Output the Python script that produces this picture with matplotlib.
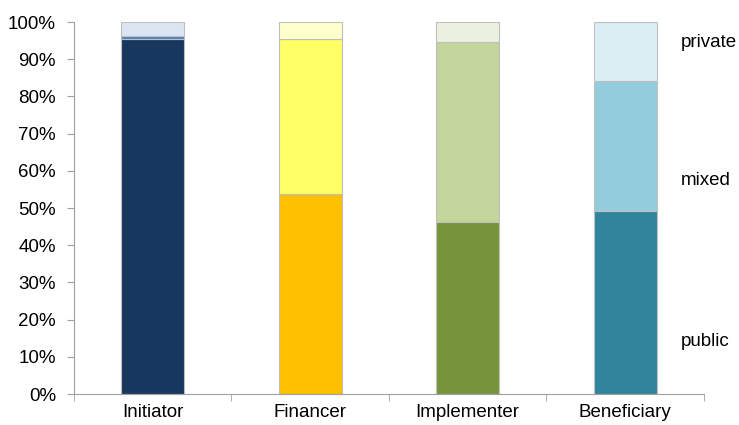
import matplotlib.pyplot as plt
import numpy as np

plt.rcParams['font.family'] = ['Liberation Sans', 'DejaVu Sans']

roles = ["Initiator", "Financer", "Implementer", "Beneficiary"]
public = [95.3, 53.8, 46.2, 49.2]
mixed = [1.0, 41.6, 48.4, 34.9]
private = [3.7, 4.6, 5.4, 15.9]

public_colors = ["#17375E", "#FFC000", "#77933C", "#31849B"]
mixed_colors = ["#4F81BD", "#FFFF66", "#C3D69B", "#93CDDD"]
private_colors = ["#DCE6F2", "#FFFFCC", "#EBF1DE", "#DBEEF4"]

# where the series names sit (data coords)
label_x = 3.35
label_y = {"private": 94.4, "mixed": 57.3, "public": 14.0}

fig = plt.figure(figsize=(7.39, 4.25), dpi=100)
ax = fig.add_axes([0.1001, 0.0729, 0.8525, 0.8753])

x = np.arange(len(roles))
w = 0.4
edge = "#BFBFBF"
ax.bar(x, public, w, color=public_colors, edgecolor=edge, linewidth=0.8)
ax.bar(x, mixed, w, bottom=public, color=mixed_colors, edgecolor=edge, linewidth=0.8)
bottom2 = np.array(public) + np.array(mixed)
ax.bar(x, private, w, bottom=bottom2, color=private_colors, edgecolor=edge, linewidth=0.8)

for name, yy in label_y.items():
    ax.text(label_x, yy, name, fontsize=13.5, va="center", ha="left")

ax.set_xlim(-0.5, 3.5)
ax.set_ylim(0, 100)
ax.set_yticks(range(0, 101, 10))
ax.set_yticklabels([f"{v}%" for v in range(0, 101, 10)], fontsize=13.5)
ax.set_xticks(x)
ax.set_xticklabels(roles, fontsize=13.5)
ax.set_xticks([-0.5, 0.5, 1.5, 2.5, 3.5], minor=True)
ax.tick_params(axis="x", which="major", length=0, pad=7)
ax.tick_params(axis="x", which="minor", length=5, color="#A0A0A0")
ax.tick_params(axis="y", length=5, color="#A0A0A0", pad=8)

for s in ["top", "right"]:
    ax.spines[s].set_visible(False)
for s in ["left", "bottom"]:
    ax.spines[s].set_color("#A0A0A0")

fig.savefig("out.png", dpi=100)
